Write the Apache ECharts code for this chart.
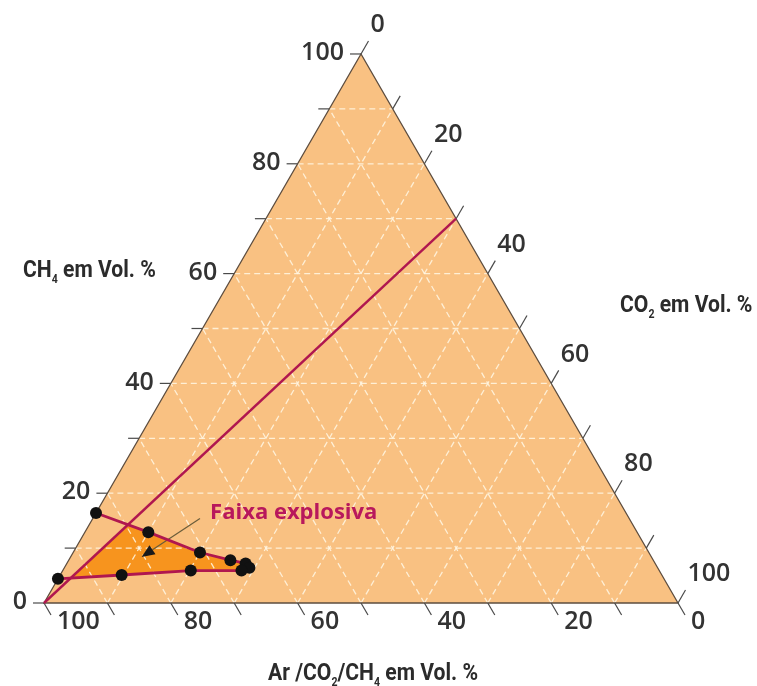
<!DOCTYPE html>
<html>
<head>
<meta charset="utf-8">
<script src="https://cdn.jsdelivr.net/npm/echarts@6/dist/echarts.min.js"></script>
<style>
  html, body { margin: 0; padding: 0; background: #ffffff; }
  #chart { width: 757px; height: 686px; }
</style>
</head>
<body>
<div id="chart"></div>
<script>
// Ternary scale: ticks every 10 %, labels every 20 %
const tickSteps = [0, 10, 20, 30, 40, 50, 60, 70, 80, 90, 100];
const labelSteps = [0, 20, 40, 60, 80, 100];

// Air / biogas mixing line (CH4 and CO2 in Vol. %)
const mixCH4 = [0, 70];
const mixCO2 = [0, 30];

// Upper explosive limit
const upperCO2 = [0, 10, 20, 25.5, 28.2, 29.2];
const upperCH4 = [16.4, 12.9, 9.2, 7.8, 7.2, 6.4];

// Lower explosive limit
const lowerCO2 = [0, 9.7, 20.2, 28.2];
const lowerCH4 = [4.4, 5.1, 5.9, 5.9];

// Annotation: text anchor and arrow (from, to)
const noteText = 'Faixa explosiva';
const noteCH4 = 16.4, noteCO2 = 18.0;
const arrowCH4 = [15.4, 8.4];
const arrowCO2 = [16.9, 11.2];

const SQ = Math.sqrt(3) / 2;
// ternary (CH4, CO2) -> cartesian (x, y) with side length 100
function tern(ch4, co2) { return [co2 + ch4 / 2, ch4 * SQ]; }

const MAGENTA = '#B0174F';
const numFont = "600 25px 'Open Sans', 'Noto Sans', sans-serif";

// where a polyline segment crosses the mixing line
function crossMix(c1, d1, c2, d2) {
  const k = mixCO2[1] / mixCH4[1];
  const t = (k * c1 - d1) / ((d2 - d1) - k * (c2 - c1));
  return [c1 + t * (c2 - c1), d1 + t * (d2 - d1)];
}

function renderFrame(params, api) {
  const P = (c, d) => api.coord(tern(c, d));
  const kids = [];
  const L = P(0, 0), R = P(0, 100), T = P(100, 0);

  // background triangle
  kids.push({ type: 'polygon', shape: { points: [L, R, T] }, style: { fill: '#F9C182' } });

  // explosive zone (right of the mixing line, between both limits)
  const iLow = crossMix(lowerCH4[0], lowerCO2[0], lowerCH4[1], lowerCO2[1]);
  const iUp = crossMix(upperCH4[0], upperCO2[0], upperCH4[1], upperCO2[1]);
  const zone = [P(iLow[0], iLow[1]), P(iUp[0], iUp[1])];
  for (let i = 1; i < upperCO2.length; i++) zone.push(P(upperCH4[i], upperCO2[i]));
  for (let i = lowerCO2.length - 1; i >= 1; i--) zone.push(P(lowerCH4[i], lowerCO2[i]));
  kids.push({ type: 'polygon', shape: { points: zone }, style: { fill: '#F7941E' } });

  // dashed grid in the three directions
  const gridStyle = { stroke: 'rgba(255,247,228,0.85)', lineWidth: 1.3, lineDash: [6, 4], fill: null };
  tickSteps.filter(v => v > 0 && v < 100).forEach(v => {
    kids.push({ type: 'polyline', shape: { points: [P(v, 0), P(v, 100 - v)] }, style: gridStyle });
    kids.push({ type: 'polyline', shape: { points: [P(0, v), P(100 - v, v)] }, style: gridStyle });
    kids.push({ type: 'polyline', shape: { points: [P(0, 100 - v), P(100 - v, 0)] }, style: gridStyle });
  });

  // border
  kids.push({ type: 'polygon', shape: { points: [L, R, T] },
    style: { fill: null, stroke: '#5d4d3f', lineWidth: 1.3 } });

  // ticks
  const tickStyle = { stroke: '#4a4a4a', lineWidth: 1.2, fill: null };
  tickSteps.forEach(v => {
    const a = P(v, 0);
    kids.push({ type: 'polyline', shape: { points: [a, [a[0] - 11, a[1]]] }, style: tickStyle });
    const b = P(100 - v, v);
    kids.push({ type: 'polyline', shape: { points: [b, [b[0] + 7.5, b[1] - 13]] }, style: tickStyle });
    const c = P(0, 100 - v);
    kids.push({ type: 'polyline', shape: { points: [c, [c[0] + 7, c[1] + 12]] }, style: tickStyle });
  });

  // tick labels
  const lab = (text, x, y, align) => ({
    type: 'text',
    style: { text: text, x: x, y: y, font: numFont, fill: '#333333',
      align: align, verticalAlign: 'middle', textAlign: align, textVerticalAlign: 'middle' }
  });
  labelSteps.forEach(v => {
    const a = P(v, 0);
    kids.push(lab(String(v), a[0] - 17, a[1] - 1, 'right'));
    const b = P(100 - v, v);
    kids.push(lab(String(v), b[0] + 9.5, b[1] - 29, 'left'));
    const c = P(0, 100 - v);
    kids.push(lab(String(v), c[0] + 13, c[1] + 19, 'left'));
  });

  // annotation arrow
  const a0 = P(arrowCH4[0], arrowCO2[0]);
  const a1 = P(arrowCH4[1], arrowCO2[1]);
  const dx = a1[0] - a0[0], dy = a1[1] - a0[1];
  const len = Math.hypot(dx, dy), ux = dx / len, uy = dy / len;
  const hl = 13, hw = 5.5;
  const base = [a1[0] - ux * hl, a1[1] - uy * hl];
  kids.push({ type: 'polyline', shape: { points: [a0, base] },
    style: { stroke: '#6a5c3a', lineWidth: 1.2, fill: null } });
  kids.push({ type: 'polygon', shape: { points: [a1,
    [base[0] - uy * hw, base[1] + ux * hw], [base[0] + uy * hw, base[1] - ux * hw]] },
    style: { fill: '#1a1a1a' } });

  // annotation text
  const n = P(noteCH4, noteCO2);
  kids.push({ type: 'text', style: { text: noteText, x: n[0], y: n[1],
    font: "bold 22px 'Open Sans', 'Noto Sans', sans-serif", fill: '#B8185C',
    align: 'left', verticalAlign: 'middle', textAlign: 'left', textVerticalAlign: 'middle' } });

  return { type: 'group', children: kids };
}

const toXY = (chs, co2s) => co2s.map((d, i) => tern(chs[i], d));

// condensed bold axis titles with subscripts
const titleFamily = "Roboto, 'Noto Sans', sans-serif";
const titleRich = {
  m: { fontFamily: titleFamily, fontWeight: 'bold', fontSize: 24, fill: '#2b2b2b', lineHeight: 30, verticalAlign: 'middle' },
  s: { fontFamily: titleFamily, fontWeight: 'bold', fontSize: 12, fill: '#2b2b2b', lineHeight: 30, verticalAlign: 'bottom' }
};
const titleText = (text, x, y) => ({
  type: 'text', x: x, y: y, scaleX: 0.88, scaleY: 1, silent: true,
  style: { text: text, rich: titleRich, align: 'left', verticalAlign: 'middle',
    textAlign: 'left', textVerticalAlign: 'middle' }
});

const chart = echarts.init(document.getElementById('chart'), null, { renderer: 'canvas' });
chart.setOption({
  animation: false,
  backgroundColor: '#ffffff',
  grid: { left: 44, right: 79, top: 54, bottom: 83 },
  xAxis: { type: 'value', min: 0, max: 100, show: false },
  yAxis: { type: 'value', min: 0, max: 86.6, show: false },
  graphic: [
    titleText('{m|CH}{s|4}{m| em Vol. %}', 23, 271),
    titleText('{m|CO}{s|2}{m| em Vol. %}', 620, 306),
    titleText('{m|Ar /CO}{s|2}{m|/CH}{s|4}{m| em Vol. %}', 268, 674)
  ],
  series: [
    {
      type: 'custom', coordinateSystem: 'cartesian2d', clip: false, silent: true, z: 1,
      data: [[0, 0]], renderItem: renderFrame
    },
    {
      type: 'line', data: toXY(mixCH4, mixCO2), symbol: 'none', z: 3, silent: true,
      lineStyle: { color: MAGENTA, width: 2.4 }
    },
    {
      type: 'line', data: toXY(upperCH4, upperCO2), symbol: 'circle', symbolSize: 12, z: 4, silent: true,
      lineStyle: { color: MAGENTA, width: 2.8 }, itemStyle: { color: '#111111', borderWidth: 0 }
    },
    {
      type: 'line', data: toXY(lowerCH4, lowerCO2), symbol: 'circle', symbolSize: 12, z: 4, silent: true,
      lineStyle: { color: MAGENTA, width: 2.8 }, itemStyle: { color: '#111111', borderWidth: 0 }
    }
  ]
});
</script>
</body>
</html>
